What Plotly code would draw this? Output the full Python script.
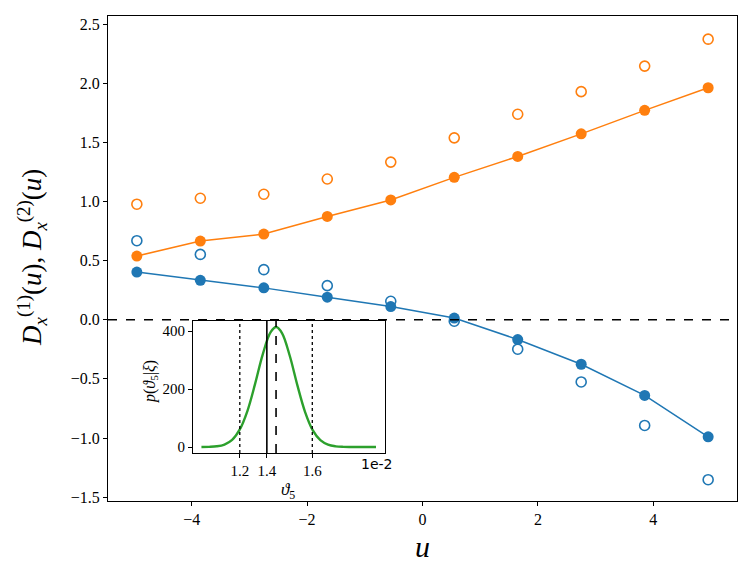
import plotly.graph_objects as go

# ---------------- data ----------------
u = [-4.95, -3.85, -2.75, -1.65, -0.55, 0.55, 1.65, 2.75, 3.85, 4.95]
d1_fit = [0.404, 0.334, 0.270, 0.191, 0.112, 0.015, -0.167, -0.376, -0.640, -0.990]
d1_raw = [0.669, 0.553, 0.424, 0.289, 0.157, -0.012, -0.249, -0.526, -0.894, -1.353]
d2_fit = [0.539, 0.666, 0.725, 0.874, 1.014, 1.205, 1.382, 1.573, 1.772, 1.963]
d2_raw = [0.978, 1.028, 1.062, 1.191, 1.334, 1.539, 1.739, 1.930, 2.146, 2.374]

# posterior of theta_5 (x in units of 1e-2)
theta = [1.02, 1.06, 1.10, 1.14, 1.18, 1.22, 1.26, 1.30, 1.34, 1.38, 1.41, 1.44,
         1.48, 1.52, 1.56, 1.60, 1.64, 1.68, 1.72, 1.76, 1.80, 1.84, 1.88, 1.93]
post = [0.1, 0.6, 2.4, 8.5, 24.6, 60.6, 125.0, 218.5, 320.5, 395.7, 414.0, 393.0,
        315.6, 213.4, 121.5, 58.2, 23.4, 8.0, 2.3, 0.5, 0.1, 0.0, 0.0, 0.0]
theta_lo, theta_true, theta_mean, theta_hi = 1.22, 1.361, 1.409, 1.598
inset_ticklabels = ["1.2", "1.4", "1.6"]
inset_yticks = [0, 200, 400]
main_yticks = [-1.5, -1.0, -0.5, 0.0, 0.5, 1.0, 1.5, 2.0, 2.5]
main_xticks = [-4, -2, 0, 2, 4]

BLUE, ORANGE, GREEN = "#1f77b4", "#ff7f0e", "#2ca02c"
FONT = "Liberation Serif"

# page body has an 8px margin, so the figure is a little smaller than the window
W, H = 739, 568
ML, MR, MT, MB = 100, 10, 8, 75
PW, PH = W - ML - MR, H - MT - MB


def px(xpage):  # page x pixel -> paper coordinate
    return (xpage - 8 - ML) / PW


def py(ypage):  # page y pixel -> paper coordinate
    return (H - MB - (ypage - 8)) / PH


fig = go.Figure()

# main panel
fig.add_trace(go.Scatter(x=u, y=d1_raw, mode="markers",
                         marker=dict(symbol="circle-open", size=10, color=BLUE, line=dict(width=1.6)),
                         xaxis="x", yaxis="y", showlegend=False))
fig.add_trace(go.Scatter(x=u, y=d2_raw, mode="markers",
                         marker=dict(symbol="circle-open", size=10, color=ORANGE, line=dict(width=1.6)),
                         xaxis="x", yaxis="y", showlegend=False))
fig.add_trace(go.Scatter(x=u, y=d1_fit, mode="lines+markers",
                         line=dict(color=BLUE, width=1.5),
                         marker=dict(symbol="circle", size=11, color=BLUE),
                         xaxis="x", yaxis="y", showlegend=False))
fig.add_trace(go.Scatter(x=u, y=d2_fit, mode="lines+markers",
                         line=dict(color=ORANGE, width=1.5),
                         marker=dict(symbol="circle", size=11, color=ORANGE),
                         xaxis="x", yaxis="y", showlegend=False))

# inset
fig.add_trace(go.Scatter(x=theta, y=post, mode="lines", line=dict(color=GREEN, width=2.4, shape="spline"),
                         xaxis="x2", yaxis="y2", showlegend=False))

axis_common = dict(showline=True, linecolor="black", linewidth=1.2, mirror=True,
                   ticks="outside", ticklen=4, tickwidth=1, tickcolor="black",
                   showgrid=False, zeroline=False)

fig.update_layout(
    width=W, height=H,
    margin=dict(l=ML, r=MR, t=MT, b=MB),
    paper_bgcolor="white", plot_bgcolor="white",
    font=dict(family=FONT, color="black"),
    xaxis=dict(domain=[0, 1], range=[-5.45, 5.45], tickvals=main_xticks,
               tickfont=dict(size=16, family=FONT), anchor="y", **axis_common),
    yaxis=dict(domain=[0, 1], range=[-1.533, 2.57], tickvals=main_yticks, tickformat=".1f",
               tickfont=dict(size=16, family=FONT), anchor="x", **axis_common),
    xaxis2=dict(domain=[px(193), px(385)], range=[0.976, 1.977], anchor="y2",
                tickvals=[theta_lo, theta_true, theta_hi], ticktext=inset_ticklabels,
                tickfont=dict(size=15, family=FONT), **axis_common),
    yaxis2=dict(domain=[py(453), py(321)], range=[-20.7, 434.7], anchor="x2",
                tickvals=inset_yticks, tickfont=dict(size=15, family=FONT), **axis_common),
)

# zero line on main panel
fig.add_shape(type="line", xref="x domain", yref="y", x0=0, x1=1, y0=0, y1=0,
              line=dict(color="black", width=1.4, dash="dash"), layer="above")

# inset vertical lines
for xv, dash, w in [(theta_lo, "dot", 1.3), (theta_hi, "dot", 1.3),
                    (theta_true, "solid", 1.6), (theta_mean, "dash", 1.6)]:
    fig.add_shape(type="line", xref="x2", yref="y2 domain", x0=xv, x1=xv, y0=0, y1=1,
                  line=dict(color="black", width=w, dash=dash), layer="above")

ann = dict(xref="paper", yref="paper", showarrow=False, xanchor="center", yanchor="middle")
fig.add_annotation(text="<i>D</i><sub><i>x</i></sub><sup>(1)</sup>(<i>u</i>), "
                        "<i>D</i><sub><i>x</i></sub><sup>(2)</sup>(<i>u</i>)",
                   x=px(32), y=py(258), textangle=-90, font=dict(size=27, family=FONT), **ann)
fig.add_annotation(text="<i>u</i>", x=px(422), y=py(546), font=dict(size=30, family=FONT), **ann)
fig.add_annotation(text="<i>p</i>(<i>ϑ</i><sub>5</sub>|<i>ξ</i>)", x=px(150), y=py(382),
                   textangle=-90, font=dict(size=16, family=FONT), **ann)
fig.add_annotation(text="<i>ϑ</i><sub>5</sub>", x=px(288), y=py(491),
                   font=dict(size=17, family=FONT), **ann)
fig.add_annotation(text="1e-2", x=px(376), y=py(464), font=dict(size=14, family="DejaVu Sans"), **ann)

fig.write_html("out.html")
